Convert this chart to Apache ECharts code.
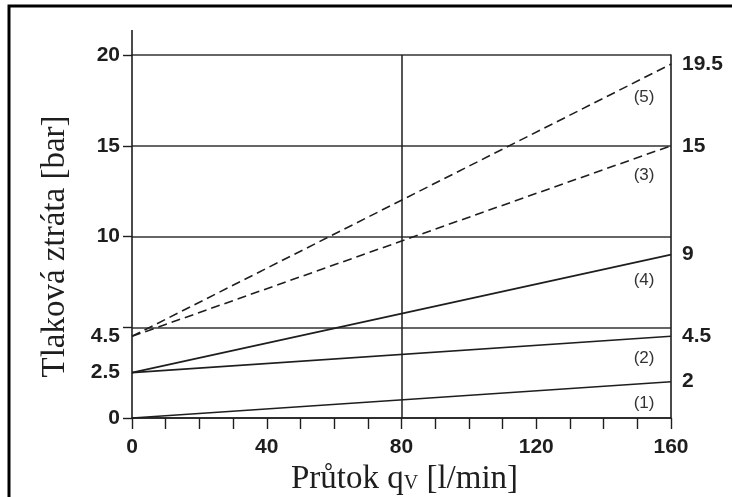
<!DOCTYPE html>
<html>
<head>
<meta charset="utf-8">
<script src="https://cdn.jsdelivr.net/npm/echarts@6/dist/echarts.min.js"></script>
<style>
html,body{margin:0;padding:0;background:#fff;}
#main{width:732px;height:497px;}
</style>
</head>
<body>
<div id="main"></div>
<script>
var flow = [0, 160];
var line1 = [0, 2];
var line2 = [2.5, 4.5];
var line3 = [4.5, 15];
var line4 = [2.5, 9];
var line5 = [4.5, 19.5];
var leftLabels = [0, 2.5, 4.5, 10, 15, 20];
var rightLabels = [2, 4.5, 9, 15, 19.5];
var labelAt = 152;

var ink = '#1e1e1e';
var tickFont = {color: ink, fontFamily: 'Liberation Sans', fontWeight: 'bold', fontSize: 21};

function pts(v){
	return [[flow[0], v[0]], [flow[1], v[1]]];
}
function tag(v, txt){
	var y = v[0] + (v[1]-v[0])*(labelAt-flow[0])/(flow[1]-flow[0]);
	return {
		symbol: 'circle', symbolSize: 1, silent: true,
		itemStyle: {color: 'rgba(0,0,0,0)'},
		label: {show: true, formatter: txt, offset: [0, 20], color: '#333', fontFamily: 'Liberation Sans', fontSize: 17},
		data: [{coord: [labelAt, y]}]
	};
}
function mk(name, v, dashed, extra){
	var s = {
		name: name,
		type: 'line',
		data: pts(v),
		symbol: 'none',
		silent: true,
		lineStyle: {color: ink, width: 1.6, type: dashed ? [9, 5] : 'solid'},
		markPoint: tag(v, name),
		z: 3
	};
	if(extra) s.markLine = extra;
	return s;
}

var chart = echarts.init(document.getElementById('main'));
var option = {
	animation: false,
	backgroundColor: '#fff',
	grid: {left: 132, right: 61, top: 55, bottom: 79, containLabel: false, outerBoundsMode: 'none'},
	graphic: [
		{type: 'rect', shape: {x: 9, y: 6, width: 760, height: 520}, style: {fill: 'none', stroke: '#000', lineWidth: 3}, silent: true},
		{type: 'line', shape: {x1: 132, y1: 30, x2: 132, y2: 55}, style: {stroke: ink, lineWidth: 1.6}, silent: true}
	],
	xAxis: {
		type: 'value', min: 0, max: 160, interval: 10,
		name: 'Průtok q{s|V} [l/min]',
		nameLocation: 'middle', nameGap: 38,
		nameTextStyle: {color: ink, fontFamily: 'Liberation Serif', fontSize: 33, padding: [0, 0, 0, 6],
			rich: {s: {fontFamily: 'Liberation Serif', fontSize: 20, color: ink, padding: [8, 0, 0, 0]}}},
		axisLine: {show: true, lineStyle: {color: ink, width: 1.6}},
		axisTick: {show: true, length: 11, lineStyle: {color: ink, width: 1.4}},
		axisLabel: Object.assign({margin: 19, formatter: function(v){ return v % 40 === 0 ? v : ''; }}, tickFont),
		splitLine: {show: false}
	},
	yAxis: [{
		type: 'value', min: 0, max: 20, interval: 5, position: 'left',
		name: 'Tlaková ztráta [bar]',
		nameLocation: 'middle', nameGap: 60, nameRotate: 90,
		nameTextStyle: {color: ink, fontFamily: 'Liberation Serif', fontSize: 33, padding: [0, 20, 0, 0]},
		axisLine: {show: true, lineStyle: {color: ink, width: 1.6}},
		axisTick: {show: true, length: 9, lineStyle: {color: ink, width: 1.4}},
		axisLabel: Object.assign({margin: 12, customValues: leftLabels}, tickFont),
		splitLine: {show: true, lineStyle: {color: '#333', width: 1.5}}
	}, {
		type: 'value', min: 0, max: 20, position: 'right',
		axisLine: {show: true, lineStyle: {color: ink, width: 1.6}},
		axisTick: {show: false},
		axisLabel: Object.assign({margin: 11, customValues: rightLabels}, tickFont),
		splitLine: {show: false}
	}],
	series: [
		mk('(1)', line1, false, {
			silent: true, symbol: ['none', 'none'], label: {show: false},
			lineStyle: {color: ink, width: 1.5, type: 'solid'},
			data: [{xAxis: 80}]
		}),
		mk('(2)', line2, false),
		mk('(3)', line3, true),
		mk('(4)', line4, false),
		mk('(5)', line5, true)
	]
};
chart.setOption(option);
</script>
</body>
</html>
